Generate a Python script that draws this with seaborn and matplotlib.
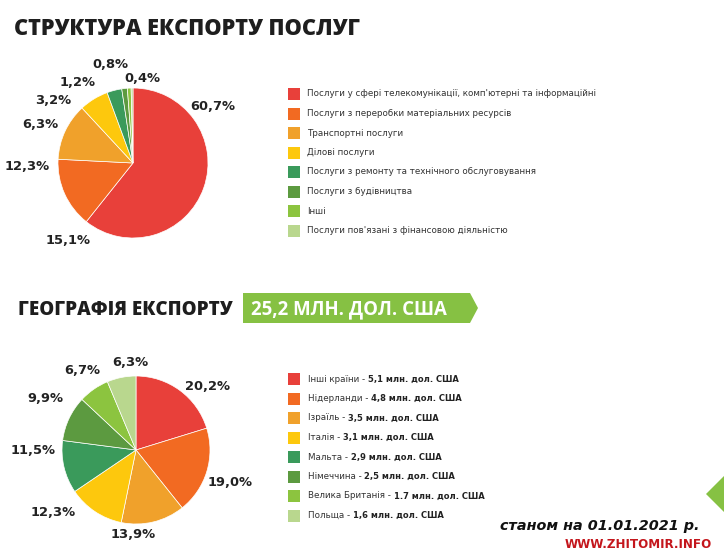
import matplotlib
matplotlib.use("Agg")
import matplotlib.pyplot as plt
import seaborn as sns
from matplotlib.patches import Polygon
from matplotlib import font_manager

# дані
services = [
    "Послуги у сфері телекомунікації, комп'ютерні та інформаційні",
    "Послуги з переробки матеріальних ресурсів",
    "Транспортні послуги",
    "Ділові послуги",
    "Послуги з ремонту та технічного обслуговування",
    "Послуги з будівництва",
    "Інші",
    "Послуги пов'язані з фінансовою діяльністю",
]
services_share = [60.7, 15.1, 12.3, 6.3, 3.2, 1.2, 0.8, 0.4]
services_labels = ["60,7%", "15,1%", "12,3%", "6,3%", "3,2%", "1,2%", "0,8%", "0,4%"]

countries = ["Інші країни", "Нідерланди", "Ізраїль", "Італія",
             "Мальта", "Німеччина", "Велика Британія", "Польща"]
countries_value = ["5,1", "4,8", "3,5", "3,1", "2,9", "2,5", "1.7", "1,6"]
countries_share = [20.2, 19.0, 13.9, 12.3, 11.5, 9.9, 6.7, 6.3]
countries_labels = ["20,2%", "19,0%", "13,9%", "12,3%", "11,5%", "9,9%", "6,7%", "6,3%"]

colors = sns.color_palette(["#E8403A", "#F26A22", "#F0A12B", "#FDC80D",
                            "#3A9A5B", "#5C9A40", "#8CC43F", "#B9D78E"])

sns.set_theme(style="white")
plt.rcParams["font.family"] = ["DejaVu Sans"]

names = {f.name for f in font_manager.fontManager.ttflist}
narrow = "Liberation Sans Narrow" if "Liberation Sans Narrow" in names else "DejaVu Sans"

W, H = 724, 560
fig = plt.figure(figsize=(W / 100, H / 100), dpi=100)
fig.patch.set_facecolor("white")

# накладні осі в пікселях
ov = fig.add_axes([0, 0, 1, 1])
ov.set_xlim(0, W)
ov.set_ylim(H, 0)
ov.axis("off")


def draw_pie(cx, cy, r, values):
    ax = fig.add_axes([(cx - r) / W, (H - cy - r) / H, 2 * r / W, 2 * r / H])
    ax.pie(values, colors=colors, startangle=90, counterclock=False,
           radius=1, wedgeprops=dict(linewidth=0.5, edgecolor="white"))
    ax.set_xlim(-1, 1)
    ax.set_ylim(-1, 1)
    ax.axis("off")
    return ax


ax1 = draw_pie(133, 163, 75, services_share)
ax2 = draw_pie(136, 450, 74, countries_share)

# підписи відсотків
top_pos = [(213, 107), (68, 240), (27, 167), (40, 124), (53, 101), (78, 83), (110, 65), (142, 79)]
bot_pos = [(208, 387), (230, 482), (133, 535), (53, 513), (33, 451), (45, 398), (82, 371), (130, 362)]
for (x, y), s in zip(top_pos, services_labels):
    ov.text(x, y, s, ha="center", va="center", fontsize=9.4, fontweight="bold", color="#222222")
for (x, y), s in zip(bot_pos, countries_labels):
    ov.text(x, y, s, ha="center", va="center", fontsize=9.4, fontweight="bold", color="#222222")

# заголовки
ov.text(14, 29, "СТРУКТУРА ЕКСПОРТУ ПОСЛУГ", fontsize=15.7, fontweight="heavy",
        family="Open Sans", color="#1E1E1E", ha="left", va="center")
ov.text(18, 310, "ГЕОГРАФІЯ ЕКСПОРТУ", fontsize=13.5, fontweight="heavy",
        family="Open Sans", color="#1E1E1E", ha="left", va="center")

# банер
ov.add_patch(Polygon([(243, 293), (470, 293), (478, 308), (470, 323), (243, 323)],
                     closed=True, facecolor="#86C143", edgecolor="none"))
ov.text(251, 309, "25,2 МЛН. ДОЛ. США", fontsize=13.4, fontweight="bold",
        family="Open Sans", color="white", ha="left", va="center")

# легенда 1
for i, (name, c) in enumerate(zip(services, colors)):
    y = 94 + i * 19.5
    ov.add_patch(plt.Rectangle((288, y - 6), 12, 12, facecolor=c, edgecolor="none"))
    ov.text(307, y, name, fontsize=6.3, color="#333333", ha="left", va="center")

# легенда 2
fig.canvas.draw()
renderer = fig.canvas.get_renderer()
for i, (name, val, c) in enumerate(zip(countries, countries_value, colors)):
    y = 379 + i * 19.5
    ov.add_patch(plt.Rectangle((288, y - 6), 12, 12, facecolor=c, edgecolor="none"))
    t = ov.text(308, y, name + " - ", fontsize=6.3, color="#333333", ha="left", va="center")
    x1 = t.get_window_extent(renderer).x1
    ov.text(x1, y, val + " млн. дол. США", fontsize=6.0, fontweight="bold",
            color="#222222", ha="left", va="center")

# трикутник справа
ov.add_patch(Polygon([(706, 494), (724, 476), (724, 512)], closed=True,
                     facecolor="#86C143", edgecolor="none"))

# підвал
ov.text(600, 526, "станом на 01.01.2021 р.", fontsize=10.4, fontweight="bold",
        style="italic", color="#111111", ha="center", va="center")
ov.text(638, 544, "WWW.ZHITOMIR.INFO", fontsize=12 if narrow != "DejaVu Sans" else 9.5,
        fontweight="bold", family=narrow, stretch="condensed",
        color="#C4161C", ha="center", va="center")

fig.savefig("out.png", dpi=100)
